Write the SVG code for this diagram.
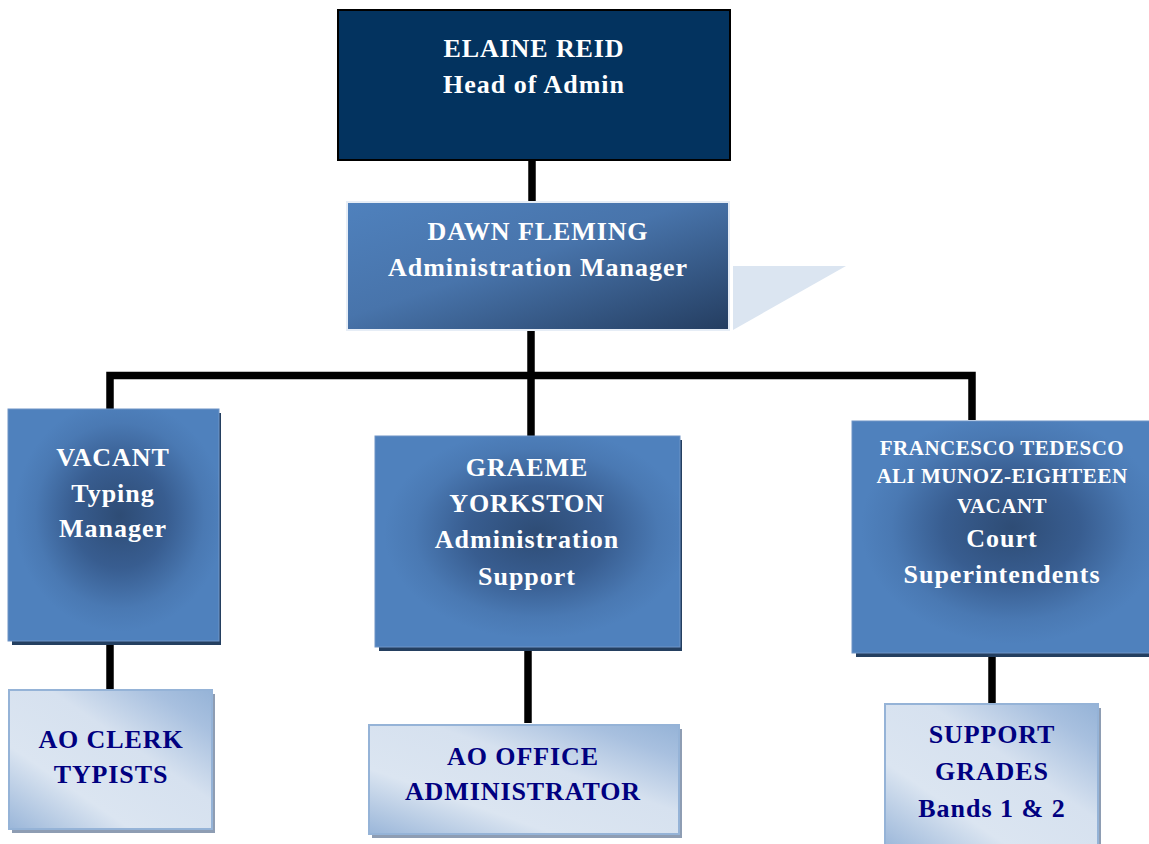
<svg xmlns="http://www.w3.org/2000/svg" width="1149" height="844" viewBox="0 0 1149 844">
<defs>
<linearGradient id="gDawn" x1="0" y1="0" x2="1" y2="1">
<stop offset="0" stop-color="#4F81BD"/>
<stop offset="0.45" stop-color="#4874AB"/>
<stop offset="1" stop-color="#243D60"/>
</linearGradient>
<radialGradient id="gBlue" cx="0.53" cy="0.46" r="0.5">
<stop offset="0" stop-color="#2E4C75"/>
<stop offset="0.45" stop-color="#385D90"/>
<stop offset="0.8" stop-color="#4A79B3"/>
<stop offset="1" stop-color="#4F81BD"/>
</radialGradient>
<linearGradient id="gLight" x1="0" y1="1" x2="1" y2="0">
<stop offset="0" stop-color="#9AB6D9"/>
<stop offset="0.3" stop-color="#DBE5F1"/>
<stop offset="0.6" stop-color="#D6E1EF"/>
<stop offset="0.85" stop-color="#A8C0DF"/>
<stop offset="1" stop-color="#95B3D7"/>
</linearGradient>
</defs>
<style>
.t{font-family:"Liberation Serif","Times New Roman",serif;font-weight:bold;text-anchor:middle}
.w{fill:#FFFFFF}
.n{fill:#000080}
.cap{font-size:26px;letter-spacing:0.9px}
.low{font-size:26px;letter-spacing:1px}
.sm{font-size:21px;letter-spacing:0.5px}
.blue{fill:url(#gBlue);stroke:#6F94C6;stroke-width:1}
.bsh{fill:#243F60}
.light{fill:url(#gLight);stroke:#95B3D7;stroke-width:2}
.lsh{fill:#8E9DB3}
.conn{stroke:#000000;stroke-width:7.5;fill:none;stroke-linecap:butt}
</style>

<g id="connectors">
<line class="conn" x1="532" y1="161" x2="532" y2="203"/>
<line class="conn" x1="531" y1="331" x2="531" y2="438"/>
<polyline class="conn" points="110,409 110,375.5 972,375.5 972,420"/>
<line class="conn" x1="110" y1="642" x2="110" y2="691"/>
<line class="conn" x1="528" y1="650" x2="528" y2="723"/>
<line class="conn" x1="992" y1="656" x2="992" y2="705"/>
</g>

<g id="elaine">
<rect x="338" y="10" width="392" height="150" fill="#03335F" stroke="#000000" stroke-width="2"/>
<text class="t w cap" x="534" y="57">ELAINE REID</text>
<text class="t w low" x="534" y="93">Head of Admin</text>
</g>

<g id="dawn">
<polygon points="733,266 846,266 733,330" fill="#DBE5F1"/>
<rect x="347" y="202" width="382" height="128" fill="url(#gDawn)" stroke="#E6EDF6" stroke-width="2"/>
<text class="t w cap" x="538" y="240">DAWN FLEMING</text>
<text class="t w low" x="538" y="276">Administration Manager</text>
</g>

<g id="vacant">
<rect class="bsh" x="12" y="413" width="209" height="232"/>
<rect class="blue" x="8" y="409" width="211" height="232"/>
<text class="t w cap" x="113" y="466">VACANT</text>
<text class="t w low" x="113" y="502">Typing</text>
<text class="t w low" x="113" y="537">Manager</text>
</g>

<g id="graeme">
<rect class="bsh" x="379" y="440" width="303" height="211"/>
<rect class="blue" x="375" y="436" width="305" height="211"/>
<text class="t w cap" x="527" y="476">GRAEME</text>
<text class="t w cap" x="527" y="512">YORKSTON</text>
<text class="t w low" x="527" y="548">Administration</text>
<text class="t w low" x="527" y="585">Support</text>
</g>

<g id="court">
<rect class="bsh" x="856" y="425" width="300" height="232"/>
<rect class="blue" x="852" y="421" width="302" height="232"/>
<text class="t w sm" x="1002" y="455">FRANCESCO TEDESCO</text>
<text class="t w sm" x="1002" y="483">ALI MUNOZ-EIGHTEEN</text>
<text class="t w sm" x="1002" y="513">VACANT</text>
<text class="t w low" x="1002" y="547">Court</text>
<text class="t w low" x="1002" y="583">Superintendents</text>
</g>

<g id="clerk">
<rect class="lsh" x="12" y="694" width="203" height="139"/>
<rect class="light" x="9" y="690" width="203" height="139"/>
<text class="t n cap" x="111" y="748">AO CLERK</text>
<text class="t n cap" x="111" y="783">TYPISTS</text>
</g>

<g id="office">
<rect class="lsh" x="372" y="729" width="310" height="109"/>
<rect class="light" x="369" y="725" width="310" height="109"/>
<text class="t n cap" x="523" y="765">AO OFFICE</text>
<text class="t n cap" x="523" y="800">ADMINISTRATOR</text>
</g>

<g id="support">
<rect class="lsh" x="888" y="708" width="213" height="140"/>
<rect class="light" x="885" y="704" width="213" height="145"/>
<text class="t n cap" x="992" y="743">SUPPORT</text>
<text class="t n cap" x="992" y="780">GRADES</text>
<text class="t n low" x="992" y="817">Bands 1 &amp; 2</text>
</g>
</svg>
